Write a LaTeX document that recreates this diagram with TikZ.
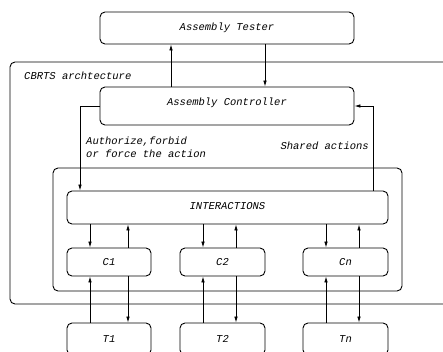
\documentclass[tikz,border=0pt]{standalone}
\usepackage{fontspec}
\setmonofont{Liberation Mono}
\usetikzlibrary{arrows.meta}
\begin{document}
\begin{tikzpicture}[x=1pt,y=-1pt,
  box/.style={draw,line width=0.9pt,rounded corners=5pt,inner sep=0pt,anchor=center},
  lbl/.style={inner sep=0pt,font=\ttfamily\itshape\fontsize{10.5}{13}\selectfont},
  arr/.style={line width=0.8pt,-{Latex[length=6pt,width=3.6pt]}},
  every node/.append style={font=\ttfamily\itshape\fontsize{10.5}{13}\selectfont}]
\useasboundingbox (0,0) rectangle (443,351);
\begin{scope}
\clip (0,0) rectangle (443,351);
\node[box,minimum width=450pt,minimum height=242pt] (outer) at (235,183) {};
\node[box,minimum width=349pt,minimum height=123pt] (inner) at (227.5,229.5) {};
\node[box,minimum width=254pt,minimum height=32pt] (tester) at (227,28) {Assembly Tester};
\node[box,minimum width=254pt,minimum height=38pt,text depth=9pt] (ctrl) at (227,106) {Assembly Controller};
\node[box,minimum width=321pt,minimum height=33pt,text height=4pt] (inter) at (227.5,207.5) {INTERACTIONS};
\node[box,minimum width=84pt,minimum height=28pt] (c1) at (109,262) {C1};
\node[box,minimum width=85pt,minimum height=28pt] (c2) at (222.5,262) {C2};
\node[box,minimum width=85pt,minimum height=28pt] (cn) at (345.5,262) {Cn};
\node[box,minimum width=84pt,minimum height=32pt] (t1) at (109,339) {T1};
\node[box,minimum width=85pt,minimum height=32pt] (t2) at (222.5,339) {T2};
\node[box,minimum width=85pt,minimum height=32pt] (tn) at (345.5,339) {Tn};
\end{scope}
\node[lbl,anchor=west] (cbrts) at (24,76) {CBRTS archtecture};
\node[lbl,anchor=west,align=left] (auth) at (86,147.5) {Authorize,forbid\\or force the action};
\node[lbl,anchor=east] (shared) at (369,146) {Shared actions};
% tester <-> controller
\draw[arr] (ctrl.north -| 171,0) -- (tester.south -| 171,0);
\draw[arr] (tester.south -| 265,0) -- (ctrl.north -| 265,0);
% controller <-> interactions
\draw[arr] (ctrl.west) -| (inter.north -| 80,0);
\draw[arr] (inter.north -| 373,0) |- (ctrl.east);
% interactions <-> C
\draw[arr] (inter.south -| 90,0) -- (c1.north -| 90,0);
\draw[arr] (c1.north -| 128,0) -- (inter.south -| 128,0);
\draw[arr] (inter.south -| 203,0) -- (c2.north -| 203,0);
\draw[arr] (c2.north -| 236,0) -- (inter.south -| 236,0);
\draw[arr] (inter.south -| 326,0) -- (cn.north -| 326,0);
\draw[arr] (cn.north -| 359,0) -- (inter.south -| 359,0);
% C <-> T
\draw[arr] (t1.north -| 90,0) -- (c1.south -| 90,0);
\draw[arr] (c1.south -| 128,0) -- (t1.north -| 128,0);
\draw[arr] (t2.north -| 203,0) -- (c2.south -| 203,0);
\draw[arr] (c2.south -| 236,0) -- (t2.north -| 236,0);
\draw[arr] (tn.north -| 326,0) -- (cn.south -| 326,0);
\draw[arr] (cn.south -| 359,0) -- (tn.north -| 359,0);
\end{tikzpicture}
\end{document}
